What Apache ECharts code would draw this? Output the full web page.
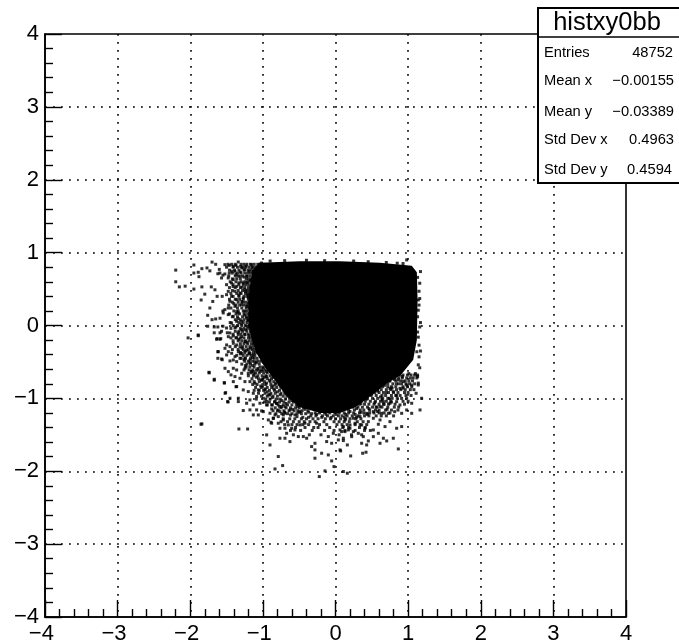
<!DOCTYPE html>
<html><head><meta charset="utf-8">
<style>html,body{margin:0;padding:0;background:#fff}#c{width:679px;height:642px}</style>
<script src="https://cdn.jsdelivr.net/npm/echarts@6/dist/echarts.min.js"></script>
</head><body><div id="c"></div>
<script>
const xTickLabels = ['−4','−3','−2','−1','0','1','2','3','4'];
const yTickLabels = ['−4','−3','−2','−1','0','1','2','3','4'];
const histName = 'histxy0bb';
const statNames = ['Entries','Mean x','Mean y','Std Dev x','Std Dev y'];
const statValues = ['48752','−0.00155','−0.03389','0.4963','0.4594'];

// Outline of the saturated core of the distribution [x, y]
const coreOutline = [[-1.05,0.86],[-0.49,0.88],[0.06,0.88],[0.61,0.86],[1.05,0.82],[1.12,0.73],[1.13,0.35],[1.12,-0.2],[1.07,-0.47],[0.9,-0.68],[0.7,-0.8],[0.52,-0.94],[0.28,-1.12],[0.06,-1.2],[-0.21,-1.2],[-0.5,-1.12],[-0.68,-0.96],[-0.78,-0.82],[-0.97,-0.58],[-1.1,-0.36],[-1.17,-0.13],[-1.2,0],[-1.2,0.35],[-1.15,0.75]];

const outliers = [[-2.2,0.76],[-2.2,0.6],[-2.15,0.53],[-2.07,0.54],[-1.95,0.83],[-1.95,0.72],[-1.89,0.73],[-1.84,0.78],[-1.88,0.67],[-1.95,0.5],[-1.84,0.53],[-1.77,0.79],[-1.73,0.75],[-1.7,0.87],[-1.65,0.84],[-1.6,0.77],[-1.62,0.71],[-1.55,0.69],[-1.8,0.43],[-1.85,0.35],[-1.71,0.53],[-1.66,0.49],[-1.69,0.33],[-1.73,0.24],[-1.63,0.4],[-1.56,0.4],[-1.55,0.2],[-1.76,0.14],[-1.7,0.08],[-1.65,0.09],[-1.59,0.1],[-1.76,-0.01],[-1.67,-0.02],[-1.62,-0.02],[-1.55,-0.01],[-1.67,-0.1],[-1.59,-0.1],[-1.89,-0.13],[-1.49,-0.1],[-2.03,-0.17],[-1.89,-0.14],[-1.63,-0.18],[-1.58,-0.18],[-1.62,-0.36],[-1.62,-0.45],[-1.56,-0.47],[-1.74,-0.65],[-1.67,-0.75],[-1.84,-1.35],[-1.33,-1.42],[-1.21,-1.42],[-1.52,-0.93],[-1.48,-1.05],[-1.53,-0.79],[-1.37,-0.84]];

const fringeUpperLeft = [[-1.523,0.835],[-1.463,0.825],[-1.408,0.812],[-1.339,0.871],[-1.307,0.812],[-1.592,0.72],[-1.523,0.707],[-1.463,0.72],[-1.385,0.743],[-1.247,0.766],[-1.155,0.835],[-1.569,0.652],[-1.477,0.652],[-1.408,0.629],[-1.316,0.675],[-1.224,0.675],[-1.133,0.743],[-1.064,0.789],[-1.018,0.857],[-1.5,0.56],[-1.431,0.583],[-1.362,0.538],[-1.27,0.583],[-1.178,0.606],[-1.087,0.652],[-1.477,0.469],[-1.385,0.469],[-1.5,0.423],[-1.431,0.4],[-1.316,0.446],[-1.247,0.492],[-1.155,0.515],[-1.064,0.56],[-1.454,0.332],[-1.362,0.355],[-1.27,0.378],[-1.201,0.423],[-1.133,0.4],[-1.523,0.218],[-1.546,0.172],[-1.477,0.24],[-1.385,0.263],[-1.293,0.286],[-1.201,0.309],[-1.11,0.332],[-1.477,0.149],[-1.408,0.126],[-1.339,0.172],[-1.247,0.195],[-1.178,0.24],[-1.362,0.058],[-1.431,0.035],[-1.293,0.058],[-1.224,0.103],[-1.133,0.149],[-1.5,-0.034],[-1.385,-0.034],[-1.293,-0.057],[-1.201,-0.011],[-1.569,-0.079],[-1.454,-0.102],[-1.339,-0.125],[-1.247,-0.125],[-1.155,-0.079],
[-1.37,0.825],[-1.29,0.79],[-1.23,0.815],[-1.15,0.795],[-1.43,0.745],[-1.31,0.735],[-1.19,0.745],[-1.37,0.7],[-1.26,0.665],[-1.17,0.625],[-1.33,0.585],[-1.22,0.585],[-1.41,0.535],[-1.29,0.525],[-1.24,0.465],[-1.33,0.415],[-1.2,0.385],[-1.29,0.33],[-1.4,0.3],[-1.22,0.262],[-1.36,0.19],[-1.25,0.145],[-1.34,0.095],[-1.21,0.07],[-1.3,0.02],[-1.37,-0.02],[-1.24,-0.06],[-1.34,-0.1],[-1.19,-0.14]];

const fringeLowerLeft = [[-1.637,-0.189],[-1.591,-0.189],[-1.476,-0.153],[-1.407,-0.144],[-1.361,-0.167],[-1.292,-0.153],[-1.499,-0.267],[-1.522,-0.313],[-1.453,-0.29],[-1.407,-0.244],[-1.361,-0.267],[-1.315,-0.29],[-1.247,-0.221],[-1.614,-0.359],[-1.476,-0.359],[-1.568,-0.459],[-1.499,-0.404],[-1.43,-0.381],[-1.384,-0.427],[-1.338,-0.359],[-1.292,-0.381],[-1.224,-0.336],[-1.178,-0.381],[-1.132,-0.404],[-1.453,-0.486],[-1.407,-0.473],[-1.361,-0.496],[-1.315,-0.45],[-1.247,-0.45],[-1.178,-0.473],[-1.109,-0.496],[-1.522,-0.587],[-1.476,-0.633],[-1.407,-0.587],[-1.361,-0.61],[-1.292,-0.656],[-1.247,-0.587],[-1.201,-0.656],[-1.132,-0.633],[-1.063,-0.61],[-0.994,-0.587],[-1.742,-0.642],[-1.669,-0.738],[-1.439,-0.678],[-1.384,-0.701],[-1.315,-0.724],[-1.531,-0.784],[-1.407,-0.77],[-1.361,-0.838],[-1.247,-0.77],[-1.178,-0.77],[-1.109,-0.792],[-1.017,-0.747],[-0.948,-0.701],[-1.27,-0.884],[-1.201,-0.907],[-1.132,-0.93],[-1.063,-0.884],[-0.971,-0.884],[-1.513,-0.921],[-1.453,-0.998],[-1.338,-0.998],[-1.178,-1.021],[-1.086,-0.975],[-0.994,-0.998],[-0.902,-0.953],[-1.485,-1.044],[-1.338,-1.044],[-1.224,-1.067],[-1.132,-1.09],[-1.04,-1.067],[-0.948,-1.09],[-0.833,-1.044],[-1.178,-1.158],[-1.27,-1.167],[-1.086,-1.158],[-1.017,-1.172],[-0.879,-1.145],[-0.788,-1.158],[-0.696,-1.113],[-1.132,-1.227],[-1.063,-1.227],[-0.856,-1.273],[-0.788,-1.25],[-0.719,-1.227],[-0.888,-1.327],[-1.852,-1.355],
[-1.33,-0.19],[-1.22,-0.23],[-1.29,-0.31],[-1.17,-0.31],[-1.24,-0.35],[-1.31,-0.39],[-1.19,-0.39],[-1.14,-0.44],[-1.26,-0.47],[-1.18,-0.51],[-1.09,-0.51],[-1.24,-0.55],[-1.14,-0.55],[-1.07,-0.59],[-1.16,-0.63],[-1.03,-0.63],[-1.12,-0.67],[-0.95,-0.63],[-1.09,-0.71],[-0.98,-0.71],[-0.86,-0.71],[-1.02,-0.75],[-0.91,-0.75],[-0.82,-0.79],[-0.95,-0.79],[-1.03,-0.83],[-0.86,-0.83],[-0.76,-0.83],[-0.97,-0.87],[-0.85,-0.87],[-0.72,-0.87],[-0.94,-0.91],[-0.8,-0.91],[-0.68,-0.93],[-0.92,-0.95],[-0.76,-0.95],[-0.63,-0.99],[-0.87,-0.99],[-0.74,-1.03],[-0.6,-1.03],[-0.81,-1.07],[-0.68,-1.07],[-0.52,-1.11],[-0.77,-1.11],[-0.59,-1.15],[-0.42,-1.15],[-0.7,-1.19],[-0.5,-1.19],[-0.37,-1.19]];

const fringeBottom = [[-0.948,-1.044],[-0.879,-1.09],[-0.81,-1.067],[-0.742,-1.113],[-0.994,-1.182],[-0.902,-1.204],[-0.833,-1.227],[-0.765,-1.182],[-0.696,-1.204],[-0.627,-1.159],[-0.558,-1.227],[-0.489,-1.182],[-0.925,-1.296],[-0.856,-1.273],[-0.879,-1.341],[-0.788,-1.341],[-0.719,-1.296],[-0.65,-1.364],[-0.604,-1.41],[-0.558,-1.433],[-0.489,-1.364],[-0.42,-1.341],[-0.352,-1.319],[-0.26,-1.341],[-0.765,-1.41],[-0.696,-1.41],[-0.673,-1.479],[-0.948,-1.501],[-0.765,-1.547],[-0.512,-1.524],[-0.443,-1.524],[-0.397,-1.547],[-0.627,-1.593],[-0.696,-1.547],[-0.122,-1.593],[-0.053,-1.616],[0.039,-1.57],[0.108,-1.547],[-0.099,-1.524],[-0.03,-1.479],[0.062,-1.433],[0.13,-1.456],[0.199,-1.41],[-0.283,-1.616],[-0.329,-1.661],[-0.283,-1.707],[-0.099,-1.776],[-0.053,-1.858],[-0.191,-1.753],[0.062,-1.707],[-0.788,-1.798],[-0.728,-1.922],[-0.833,-1.968],[-0.283,-1.821],[-0.021,-1.936],[0.108,-2.004],[0.163,-2.027],[-0.223,-2.073],[-0.145,-1.995],[-0.902,-1.639],
[-0.26,-1.22],[-0.13,-1.22],[0.01,-1.22],[0.14,-1.22],[-0.19,-1.26],[-0.06,-1.26],[0.12,-1.26],[0.27,-1.22],[-0.37,-1.26],[-0.45,-1.26],[-0.53,-1.25],[-0.62,-1.23]];

const fringeLowerRight = [[0.865,-0.748],[0.934,-0.77],[1.049,-0.816],[1.14,-0.816],[1.186,-0.999],[1.164,-1.159],[0.98,-0.816],[0.888,-0.862],[0.796,-0.908],[0.75,-0.862],[0.98,-0.999],[1.049,-1.067],[0.888,-1.09],[0.842,-1.045],[0.75,-1.067],[0.659,-1.045],[0.613,-1.113],[0.98,-1.159],[1.049,-1.205],[0.911,-1.205],[0.815,-1.182],[0.728,-1.205],[0.636,-1.205],[0.521,-1.182],[0.429,-1.205],[0.337,-1.25],[0.246,-1.273],[0.131,-1.296],[0.521,-1.273],[0.613,-1.296],[0.75,-1.319],[0.682,-1.387],[0.911,-1.387],[0.842,-1.41],[0.59,-1.355],[0.452,-1.319],[0.36,-1.365],[0.269,-1.342],[0.2,-1.365],[0.108,-1.387],[0.085,-1.456],[0.177,-1.433],[0.246,-1.456],[0.314,-1.479],[0.406,-1.41],[0.521,-1.433],[0.59,-1.479],[0.223,-1.525],[0.383,-1.525],[0.452,-1.584],[0.521,-1.525],[0.659,-1.547],[0.705,-1.584],[0.613,-1.616],[0.429,-1.639],[0.36,-1.616],[0.108,-1.579],[0.163,-1.639],[0.071,-1.721],[0.865,-1.694],[0.209,-1.79],[0.374,-1.753],[0.42,-1.739],[0.796,-1.547],
[0.2,-1.18],[0.29,-1.14],[0.35,-1.07],[0.43,-1.01],[0.5,-0.94],[0.58,-0.9],[0.68,-0.82],[0.74,-0.76],[0.81,-0.74],[0.92,-0.7],[1.01,-0.66],[0.62,-0.98],[0.7,-0.92],[0.78,-0.86],[0.87,-0.8],[0.54,-1.06],[0.64,-1.02],[0.74,-1],[0.84,-0.96],[0.93,-0.86],[0.46,-1.14],[0.56,-1.12],[0.66,-1.08],[0.77,-1.05],[0.35,-1.19],[0.44,-1.22],[0.29,-1.26],[0.58,-1.18],[0.71,-1.15]];

const fringeEdge = [[1.16,0.58],[1.14,0.35],[1.16,0.37],[1.14,0.21],[1.16,-0.02],[1.14,-0.16],[1.15,-0.27],[1.15,-0.43],[1.14,-0.54],[1.16,-0.58],[1.14,-0.79],[1.11,-0.93],[0.98,0.9],[1.13,0.66],[1.15,0.47],[1.13,0.12],[1.13,-0.09],[1.12,-0.36],[1.1,-0.66],[1.13,-0.7],[1.17,0.74],[1.15,0.28],[1.17,0.04],[1.17,-0.35],[-0.9,0.885],[-0.7,0.89],[-0.4,0.895],[-0.15,0.89],[0.25,0.885],[0.45,0.875],[0.7,0.865],[0.85,0.855],[0.93,0.85]];

// Stipple bands read row by row: [y, x, x, x, ...]
const rowsUpperLeft = [
[0.84,-1.48,-1.43,-1.38,-1.3,-1.26,-1.22,-1.17,-1.12,-1.07,-1.04],[0.8,-1.5,-1.41,-1.35,-1.28,-1.24,-1.19,-1.14,-1.1,-1.05],[0.76,-1.46,-1.39,-1.33,-1.26,-1.2,-1.16,-1.11,-1.07],[0.72,-1.42,-1.35,-1.3,-1.25,-1.21,-1.17,-1.12,-1.08,-1.04],[0.68,-1.47,-1.38,-1.34,-1.28,-1.22,-1.18,-1.13,-1.1,-1.06],[0.64,-1.42,-1.36,-1.31,-1.23,-1.2,-1.16,-1.12],[0.6,-1.45,-1.37,-1.3,-1.25,-1.21,-1.14,-1.12],[0.56,-1.41,-1.33,-1.27,-1.23,-1.19,-1.15],[0.52,-1.46,-1.38,-1.31,-1.25,-1.2,-1.17],[0.48,-1.42,-1.34,-1.28,-1.22,-1.19],[0.44,-1.44,-1.36,-1.3,-1.24,-1.21,-1.17],[0.4,-1.41,-1.33,-1.26,-1.22,-1.18],[0.36,-1.46,-1.38,-1.32,-1.27,-1.2],[0.32,-1.42,-1.34,-1.28,-1.24,-1.19],[0.28,-1.47,-1.37,-1.32,-1.26,-1.22,-1.18],[0.24,-1.44,-1.35,-1.29,-1.23,-1.19],[0.2,-1.4,-1.34,-1.27,-1.22,-1.17],[0.16,-1.46,-1.37,-1.32,-1.26,-1.21,-1.18],[0.12,-1.42,-1.35,-1.28,-1.23,-1.19],[0.08,-1.38,-1.31,-1.26,-1.2],[0.04,-1.45,-1.33,-1.27,-1.22,-1.17],[0,-1.41,-1.35,-1.29,-1.24,-1.19],[-0.04,-1.44,-1.31,-1.26,-1.21,-1.16],[-0.08,-1.38,-1.33,-1.28,-1.22,-1.17],[-0.12,-1.41,-1.3,-1.25,-1.2,-1.15]];
const rowsLowerLeft = [
[-0.17,-1.44,-1.37,-1.31,-1.26,-1.2,-1.17],[-0.21,-1.41,-1.34,-1.29,-1.24,-1.19,-1.15],[-0.25,-1.31,-1.26,-1.21,-1.16,-1.13],[-0.29,-1.38,-1.28,-1.23,-1.18,-1.14],[-0.33,-1.42,-1.34,-1.27,-1.2,-1.15,-1.12],[-0.37,-1.31,-1.25,-1.19,-1.13,-1.1],[-0.41,-1.36,-1.27,-1.22,-1.16,-1.11],[-0.45,-1.3,-1.24,-1.17,-1.12,-1.08],[-0.49,-1.25,-1.2,-1.14,-1.07,-1.03],[-0.53,-1.29,-1.22,-1.17,-1.11,-1.05],[-0.57,-1.23,-1.18,-1.12,-1.04,-1],[-0.61,-1.26,-1.19,-1.14,-1.09,-1.02,-0.97],[-0.65,-1.16,-1.1,-1.05,-0.99,-0.94],[-0.69,-1.2,-1.13,-1.07,-1.01,-0.96,-0.9],[-0.73,-1.15,-1.06,-1,-0.94,-0.88],[-0.77,-1.12,-1.05,-0.98,-0.9,-0.85],[-0.81,-1.14,-1.08,-1,-0.96,-0.89,-0.83,-0.78],[-0.85,-1.1,-1.02,-0.94,-0.88,-0.81,-0.75],[-0.89,-1.12,-1.05,-0.99,-0.91,-0.84,-0.77,-0.71],[-0.93,-1.06,-0.97,-0.89,-0.83,-0.75,-0.7],[-0.97,-1.02,-0.94,-0.86,-0.8,-0.72,-0.67],[-1.01,-1.09,-0.96,-0.9,-0.82,-0.76,-0.69,-0.63],[-1.05,-0.98,-0.91,-0.84,-0.77,-0.71,-0.64,-0.58],[-1.09,-0.94,-0.87,-0.79,-0.72,-0.66,-0.6,-0.54],[-1.13,-0.83,-0.75,-0.68,-0.62,-0.55,-0.5,-0.44],[-1.17,-0.86,-0.8,-0.71,-0.64,-0.57,-0.52,-0.46,-0.38],[-1.21,-0.82,-0.74,-0.66,-0.6,-0.53,-0.47,-0.41,-0.33]];
const rowsBottom = [
[-1.2,-0.28,-0.22,-0.15,-0.08,-0.01,0.05,0.12,0.18,0.25],[-1.24,-0.34,-0.27,-0.18,-0.11,-0.03,0.04,0.09,0.16,0.23,0.31],[-1.28,-0.72,-0.63,-0.56,-0.47,-0.4,-0.31,-0.24,-0.14,-0.07,0,0.07,0.14,0.2,0.28,0.35],[-1.32,-0.75,-0.66,-0.58,-0.5,-0.43,-0.28,-0.16,-0.02,0.05,0.12,0.19,0.3,0.38],[-1.36,-0.7,-0.6,-0.53,-0.45,-0.37,-0.22,-0.12,0.02,0.09,0.16,0.27,0.34,0.43],[-1.4,-0.55,-0.42,-0.3,-0.24,-0.08,0.1,0.18,0.33,0.41],[-1.44,-0.62,-0.48,-0.32,-0.15,-0.02,0.13,0.27,0.4,0.48],[-1.5,-0.58,-0.36,-0.2,0.05,0.22,0.36]];
const rowsLowerRight = [
[-0.68,0.88,0.93,0.99,1.04,1.09,1.13],[-0.72,0.76,0.82,0.87,0.92,0.98,1.03,1.07,1.12],[-0.76,0.7,0.75,0.83,0.9,0.96,1.01,1.06],[-0.8,0.66,0.72,0.79,0.84,0.91,0.97,1.02,1.09],[-0.84,0.6,0.65,0.72,0.77,0.83,0.93,0.99,1.05],[-0.88,0.52,0.58,0.63,0.7,0.76,0.84,0.9,0.96,1.03,1.08],[-0.92,0.47,0.54,0.6,0.66,0.73,0.8,0.86,0.95,1],[-0.96,0.42,0.49,0.56,0.64,0.69,0.77,0.83,0.89,0.97,1.04],[-1,0.37,0.44,0.51,0.58,0.65,0.72,0.78,0.85,0.91],[-1.04,0.3,0.35,0.41,0.48,0.55,0.62,0.7,0.76,0.93,1],[-1.08,0.27,0.33,0.4,0.46,0.53,0.6,0.67,0.73,0.82,0.95],[-1.12,0.24,0.31,0.37,0.44,0.51,0.57,0.64,0.72,0.81,0.87],[-1.16,0.18,0.26,0.34,0.39,0.47,0.55,0.6,0.69,0.77,0.86],[-1.2,0.33,0.39,0.47,0.53,0.6,0.67,0.75],[-1.24,0.4,0.46,0.56,0.63,0.7,0.8]];

const expand = rows => rows.flatMap(r => r.slice(1).map(x => [x, r[0]]));
const allPoints = [].concat(outliers, fringeUpperLeft, fringeLowerLeft, fringeBottom, fringeLowerRight, fringeEdge,
  expand(rowsUpperLeft), expand(rowsLowerLeft), expand(rowsBottom), expand(rowsLowerRight));

const chart = echarts.init(document.getElementById('c'), null, {renderer:'canvas'});
const axisBase = {
  type:'value', min:-4, max:4, interval:1,
  axisLine:{show:true, onZero:false, lineStyle:{color:'#000', width:1.6}},
  axisTick:{show:true, inside:true, length:17, lineStyle:{color:'#000', width:1.4}},
  minorTick:{show:true, splitNumber:5, length:8, lineStyle:{color:'#000', width:1.4}},
  splitLine:{show:true, showMinLine:false, showMaxLine:false, lineStyle:{color:'#000', width:1.6, type:[1.8,6.2]}},
  minorSplitLine:{show:false}
};
const labelFont = {color:'#000', fontFamily:'"Liberation Sans"', fontSize:22};

const boxTexts = [];
statNames.forEach((n,i)=>{
  const ys=[52.5,81,112,140,170];
  boxTexts.push({type:'text', z:101, style:{text:n, x:544, y:ys[i], fill:'#000', font:'14.7px "Liberation Sans"', textAlign:'left', textVerticalAlign:'middle'}});
  boxTexts.push({type:'text', z:101, style:{text:statValues[i], x:[673,674,674,674,672][i], y:ys[i], fill:'#000', font:'14.7px "Liberation Sans"', textAlign:'right', textVerticalAlign:'middle'}});
});

chart.setOption({
  animation:false,
  backgroundColor:'#fff',
  grid:{left:45, right:53, top:34, bottom:25, outerBoundsMode:'none', containLabel:false, show:true, backgroundColor:'transparent', borderColor:'#000', borderWidth:1.6},
  xAxis:Object.assign({}, axisBase, {axisLabel:Object.assign({}, labelFont, {margin:6, showMinLabel:true, showMaxLabel:true,
    formatter:v => { const t = xTickLabels[Math.round(v)+4]; return v<0 ? t+'\u2004' : t; }})}),
  yAxis:Object.assign({}, axisBase, {axisLabel:Object.assign({}, labelFont, {margin:6, padding:[5,0,0,0], showMinLabel:true, showMaxLabel:true,
    formatter:v => yTickLabels[Math.round(v)+4]})}),
  series:[
    {type:'custom', coordinateSystem:'cartesian2d', data:[[0,0]], silent:true, z:3,
     renderItem:(p,api)=>({type:'polygon', shape:{points:coreOutline.map(c=>api.coord(c))}, style:{fill:'#000'}})},
    {type:'scatter', data:allPoints, symbol:'rect', symbolSize:3, itemStyle:{color:'#000'}, z:4, silent:true}
  ],
  graphic:{elements:[
    {type:'rect', z:100, shape:{x:538,y:8,width:145,height:175}, style:{fill:'#fff', stroke:'#000', lineWidth:2}},
    {type:'line', z:101, shape:{x1:538,y1:37,x2:683,y2:37}, style:{stroke:'#000', lineWidth:1.6}},
    {type:'text', z:101, style:{text:histName, x:607, y:22.5, fill:'#000', font:'25.5px "Liberation Sans"', textAlign:'center', textVerticalAlign:'middle'}}
  ].concat(boxTexts)}
});
</script></body></html>
